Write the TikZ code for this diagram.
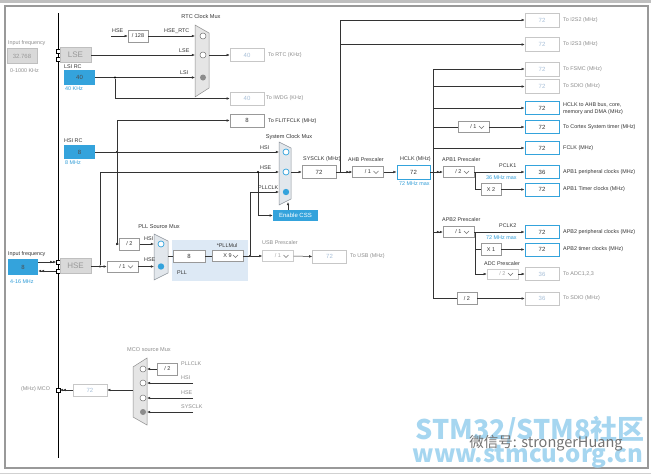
\documentclass[tikz,border=0pt]{standalone}
\usepackage{fontspec}
\setmainfont{Liberation Sans}
\newfontfamily\cjkfont{Noto Sans CJK SC}
\usetikzlibrary{arrows.meta}
\definecolor{cblue}{HTML}{34A3DC}
\definecolor{tblue}{HTML}{2E9BD6}
\definecolor{cpll}{HTML}{DDE9F5}
\definecolor{muxfill}{HTML}{E2E7EC}
\definecolor{muxdraw}{HTML}{8C939B}
\definecolor{dimnum}{HTML}{A7BFD8}
\definecolor{wm}{HTML}{A6D6F0}
\begin{document}
\begin{tikzpicture}[x=1pt,y=-1pt, >={Latex[length=3.2pt,width=2.6pt]},
 wire/.style={draw=black!80, line width=0.5pt},
 dbl/.style={-{Latex[length=3pt,width=2.6pt]Latex[length=3pt,width=2.6pt]}},
 lbl/.style={font=\fontsize{5.4}{6}\selectfont, text=black!80, inner sep=0, anchor=west},
 dlbl/.style={lbl, text=black!45},
 blbl/.style={lbl, text=tblue},
 vbox/.style={rectangle, draw=black!40, line width=0.4pt, fill=white, minimum width=34pt, minimum height=13pt, inner sep=0, font=\fontsize{6}{7}\selectfont, text=black!80},
 dbox/.style={vbox, draw=black!22, text=dimnum},
 sbox/.style={vbox, draw=cblue, line width=0.9pt},
 bfill/.style={rectangle, fill=cblue, minimum width=31pt, minimum height=15pt, inner sep=0, font=\fontsize{6}{7}\selectfont, text=black!70},
 gfill/.style={rectangle, fill=black!15, draw=black!25, line width=0.4pt, minimum width=31pt, minimum height=15pt, inner sep=0, text=black!40},
 sbx/.style={vbox, minimum width=20pt, minimum height=12pt, font=\fontsize{5.5}{6}\selectfont},
 ddbox/.style={vbox, minimum width=31pt, minimum height=11pt, font=\fontsize{5.5}{6}\selectfont,
   path picture={\draw[black!55, line width=0.4pt] ([xshift=-10pt,yshift=1pt]path picture bounding box.east) -- ++(2.5pt,-2.5pt) -- ++(2.5pt,2.5pt);}},
 dddis/.style={ddbox, draw=black!20, text=black!35},
 pinsq/.style={rectangle, draw=black, fill=white, minimum size=3.4pt, inner sep=0, line width=0.4pt},
 dotj/.style={circle, fill=black, minimum size=2.2pt, inner sep=0},
 muxg/.style={fill=black!10, draw=black!45, line width=0.5pt},
 muxb/.style={fill=muxfill, draw=muxdraw, line width=0.5pt},
 ocirc/.style={draw=cblue, line width=0.7pt, fill=white},
 fcirc/.style={fill=cblue},
 ogc/.style={draw=black!55, line width=0.5pt, fill=white},
 fgc/.style={fill=black!45},
 muxlbl/.style={lbl, anchor=center, font=\fontsize{5.6}{6}\selectfont}
]
\useasboundingbox (0,0) rectangle (651,474);
% frame
\fill[black!25] (0,0) rectangle (651,2.5);
\draw[black!40, line width=1.2pt] (5,6) rectangle (648,468);
\draw[black!18, line width=0.6pt] (0,473) -- (651,473);
% left rail
\draw[black, line width=0.6pt] (58,13) -- (58,458);

% ---------- LSE / LSI ----------
\node[dlbl] at (8,43) {Input frequency};
\node[gfill, minimum width=30pt, font=\fontsize{6}{7}\selectfont] (lsein) at (22,56) {32.768};
\node[dlbl] at (10,71) {0-1000 KHz};
\node[pinsq] (plse1) at (58,51) {};
\node[pinsq] (plse2) at (58,59) {};
\node[gfill, font=\fontsize{8}{9}\selectfont] (lse) at (75.5,55) {LSE};
\node[lbl] at (64,66.5) {LSI RC};
\node[bfill] (lsi) at (79.5,77.5) {40};
\node[blbl] at (65,88.5) {40 KHz};

% ---------- RTC mux ----------
\node[muxlbl] at (201,16) {RTC Clock Mux};
\path[muxg] (195,25) -- (209,33) -- (209,88) -- (195,97) -- cycle;
\draw[ogc] (203,36) circle[radius=3pt];
\draw[ogc] (203,55) circle[radius=3pt];
\fill[fgc] (203,77.5) circle[radius=3pt];
\coordinate (hsertcsrc) at (111,36);
\node[lbl] at (112,30.5) {HSE};
\node[sbx] (d128) at (138,36) {/ 128};
\draw[wire,->] (hsertcsrc) -- (d128.west);
\coordinate (rtcin1) at (195,36);
\coordinate (rtcin2) at (195,55);
\coordinate (rtcin3) at (195,77.5);
\coordinate (rtcout) at (209,55);
\draw[wire,->] (d128.east) -- (rtcin1);
\node[lbl] at (164,31) {HSE\_RTC};
\draw[wire,->] (lse.east) -- (rtcin2);
\node[lbl] at (179,50.5) {LSE};
\draw[wire,->] (lsi.east) -- (rtcin3);
\node[lbl] at (180,72.5) {LSI};
\node[dotj] (lsij) at (115,77.5) {};
\node[dbox] (rtc) at (247,55) {40};
\node[dlbl] at (268,55) {To RTC (KHz)};
\draw[wire,->] (rtcout) -- (rtc.west);
\node[dbox] (iwdg) at (247,98.5) {40};
\node[dlbl] at (266,98.5) {To IWDG (KHz)};
\draw[wire,->] (lsij) |- (iwdg.west);

% ---------- HSI ----------
\node[lbl] at (64,140.5) {HSI RC};
\node[bfill, minimum height=14pt] (hsi) at (79.5,152) {8};
\node[blbl] at (65,163) {8 MHz};
\node[vbox] (flit) at (247,120.5) {8};
\node[lbl] at (268,121) {To FLITFCLK (MHz)};
\node[dotj] (hsij) at (117,152) {};
\coordinate (sysin1) at (279,152);
\coordinate (sysin2) at (279,172);
\coordinate (sysin3) at (279,192);
\draw[wire,->] (hsi.east) -- (sysin1);
\node[lbl] at (260,148) {HSI};
\draw[wire,->] (hsij) |- (flit.west);
\node[sbx] (div2) at (129.5,244) {/ 2};
\draw[wire,->] (hsij) |- (div2.west);

% ---------- HSE ----------
\node[lbl] at (8,254.5) {Input frequency};
\node[bfill, minimum width=30pt, minimum height=16pt] (hsein) at (23,267) {8};
\node[blbl] at (10,281.5) {4-16 MHz};
\node[pinsq] (phse1) at (58,262) {};
\node[pinsq] (phse2) at (58,271) {};
\node[gfill, font=\fontsize{8}{9}\selectfont] (hse) at (75.5,266) {HSE};
\draw[wire,dbl] (hsein.east |- phse1) -- (phse1.west);
\draw[wire,dbl] (phse2.west) -- (hsein.east |- phse2);
\node[ddbox] (hsepre) at (122.5,266.5) {/ 1\hspace{9pt}};
\node[dotj] (hsej) at (100,266.5) {};
\draw[wire,->] (hse.east |- hsepre) -- (hsepre.west);
\draw[wire,->] (hsej) |- (sysin2);
\node[lbl] at (260,167.5) {HSE};
\node[dotj] (cssj) at (258,172) {};

% ---------- PLL source mux ----------
\node[muxlbl] at (159,227) {PLL Source Mux};
\fill[cpll] (172,240) rectangle (248,281);
\path[muxb] (154,234) -- (168,241) -- (168,273) -- (154,280) -- cycle;
\draw[ocirc] (161,244) circle[radius=3pt];
\fill[fcirc] (161,266.5) circle[radius=3.2pt];
\coordinate (pllsin1) at (154,244);
\coordinate (pllsin2) at (154,266.5);
\coordinate (pllsout) at (168,256);
\draw[wire,->] (div2.east) -- (pllsin1);
\node[lbl] at (144,239) {HSI};
\draw[wire,->] (hsepre.east) -- (pllsin2);
\node[lbl] at (144,260) {HSE};
\node[vbox, minimum width=32pt, minimum height=12pt] (pllin) at (189,256) {8};
\draw[wire] (pllsout) -- (pllin.west);
\node[lbl] at (177,272.5) {PLL};
\node[lbl, anchor=center] at (227,246) {*PLLMul};
\node[ddbox] (pllmul) at (227.5,256) {X 9\hspace{9pt}};
\draw[wire] (pllin.east) -- (pllmul.west);
\node[dotj] (pllj) at (250,256) {};
\draw[wire] (pllmul.east) -- (pllj);
\draw[wire,->] (pllj) |- (sysin3);
\node[lbl] at (258,187.5) {PLLCLK};
\node[dddis] (usbpre) at (278,256) {/ 1\hspace{9pt}};
\draw[wire,->] (pllj) -- (usbpre.west);
\node[dbox] (usb) at (329.5,256.5) {72};
\draw[wire,->] (usbpre.east) -- (usb.west);
\node[dlbl] at (350,256.5) {To USB (MHz)};
\node[dlbl] at (262,243) {USB Prescaler};

% ---------- System clock mux ----------
\node[muxlbl] at (289,137) {System Clock Mux};
\path[muxb] (279,142) -- (291,148) -- (291,199) -- (279,205) -- cycle;
\draw[ocirc] (286,152) circle[radius=3pt];
\draw[ocirc] (286,172) circle[radius=3pt];
\fill[fcirc] (286,192) circle[radius=3.2pt];
\node[rectangle, fill=cblue, minimum width=45pt, minimum height=11pt, inner sep=0, text=white, font=\fontsize{6}{7}\selectfont] (css) at (295.5,215.5) {Enable CSS};
\draw[wire,->] (cssj) |- (css.west);
\coordinate (cssup) at (288,210);
\coordinate (muxbot) at (288,202);
\draw[wire,->] (cssup) -- (muxbot);
\coordinate (sysout) at (291,172);
\node[vbox] (sysclk) at (319,172) {72};
\draw[wire,->] (sysout) -- (sysclk.west);
\node[lbl] at (303,159.5) {SYSCLK (MHz)};
\node[ddbox] (ahb) at (368,172) {/ 1\hspace{9pt}};
\draw[wire,dbl] (sysclk.east) -- (ahb.west);
\node[lbl] at (348,159.5) {AHB Prescaler};
\coordinate (sysj) at (340,172);
\node[dbox, minimum height=14pt] (i2s2) at (542,20) {72};
\node[dbox, minimum height=14pt] (i2s3) at (542,44.5) {72};
\node[dlbl] at (563,20) {To I2S2 (MHz)};
\node[dlbl] at (563,44.5) {To I2S3 (MHz)};
\draw[wire,->] (sysj) |- (i2s2.west);
\coordinate (i2s3j) at (340,44.5);
\draw[wire,->] (i2s3j) -- (i2s3.west);

% ---------- HCLK ----------
\node[sbox, minimum width=33pt, minimum height=14pt] (hclk) at (413.5,172) {72};
\draw[wire,->] (ahb.east) -- (hclk.west);
\node[lbl] at (400,159.5) {HCLK (MHz)};
\node[blbl] at (399,183.5) {72 MHz max};
\coordinate (hj) at (433,172);
\coordinate (hbbot) at (433,298.5);
\node[dbox, minimum height=14pt] (fsmc) at (542,69) {72};
\node[dlbl] at (563,69) {To FSMC (MHz)};
\node[dbox, minimum height=14pt] (sdio1) at (542,86.5) {72};
\node[dlbl] at (563,86.5) {To SDIO (MHz)};
\node[sbox] (ahbout) at (542,108) {72};
\node[lbl] at (563,104.5) {HCLK to AHB bus, core,};
\node[lbl] at (563,112) {memory and DMA (MHz)};
\node[ddbox] (cortexdd) at (473.5,127) {/ 1\hspace{9pt}};
\node[sbox] (cortex) at (542,127) {72};
\node[lbl] at (563,127) {To Cortex System timer (MHz)};
\node[sbox] (fclk) at (542,148) {72};
\node[lbl] at (563,148) {FCLK (MHz)};
\draw[wire,->] (hbbot) |- (fsmc.west);
\draw[wire,->] (sdio1.west -| hj) -- (sdio1.west);
\draw[wire,->] (ahbout.west -| hj) -- (ahbout.west);
\draw[wire] (cortexdd.west -| hj) -- (cortexdd.west);
\draw[wire,->] (cortexdd.east) -- (cortex.west);
\draw[wire,->] (fclk.west -| hj) -- (fclk.west);

% ---------- APB1 ----------
\node[lbl] at (442,159.5) {APB1 Prescaler};
\node[ddbox] (apb1) at (458.5,172) {/ 2\hspace{9pt}};
\draw[wire,dbl] (hclk.east) -- (apb1.west);
\node[sbox] (pclk1) at (542,172) {36};
\node[lbl] at (563,172) {APB1 peripheral clocks (MHz)};
\draw[wire,->] (apb1.east) -- (pclk1.west);
\node[lbl] at (499,166) {PCLK1};
\node[blbl] at (486,177.5) {36 MHz max};
\coordinate (apb1v) at (475,172);
\node[sbx] (x2) at (491,189.5) {X 2};
\node[sbox] (apb1tim) at (542,189.5) {72};
\node[lbl] at (563,189.5) {APB1 Timer clocks (MHz)};
\draw[wire] (apb1v) |- (x2.west);
\draw[wire,->] (x2.east) -- (apb1tim.west);

% ---------- APB2 ----------
\node[lbl] at (442,219.5) {APB2 Prescaler};
\coordinate (hj2) at (433,232);
\node[ddbox] (apb2) at (458.5,232) {/ 1\hspace{9pt}};
\draw[wire,dbl] (hj2) -- (apb2.west);
\node[sbox] (pclk2) at (542,232) {72};
\node[lbl] at (563,232) {APB2 peripheral clocks (MHz)};
\draw[wire,->] (apb2.east) -- (pclk2.west);
\node[lbl] at (499,226) {PCLK2};
\node[blbl] at (486,237.5) {72 MHz max};
\coordinate (apb2v) at (475,232);
\node[sbx] (x1) at (491,249.5) {X 1};
\node[sbox] (apb2tim) at (542,249.5) {72};
\node[lbl] at (563,249.5) {APB2 timer clocks (MHz)};
\draw[wire] (apb2v) |- (x1.west);
\draw[wire,->] (x1.east) -- (apb2tim.west);
\node[lbl] at (484,263.5) {ADC Prescaler};
\node[dddis, minimum height=10pt] (adcdd) at (502.5,274) {/ 2\hspace{9pt}};
\node[dbox] (adc) at (542,274) {36};
\node[dlbl] at (563,274) {To ADC1,2,3};
\draw[wire,->] (apb2v) |- (adcdd.west);
\draw[wire,->] (adcdd.east) -- (adc.west);

% ---------- SDIO /2 ----------
\node[sbx] (sdiodiv) at (467,298.5) {/ 2};
\node[dbox] (sdio2) at (542,298.5) {36};
\node[dlbl] at (563,298.5) {To SDIO (MHz)};
\draw[wire] (hbbot) -- (sdiodiv.west);
\draw[wire,->] (sdiodiv.east) -- (sdio2.west);

% ---------- MCO ----------
\node[muxlbl, text=black!45] at (149,350) {MCO source Mux};
\path[muxg] (133,367) -- (147,358) -- (147,425) -- (133,417) -- cycle;
\draw[ogc] (143,369) circle[radius=3pt];
\draw[ogc] (143,383) circle[radius=3pt];
\draw[ogc] (143,398) circle[radius=3pt];
\fill[fgc] (143,412) circle[radius=3pt];
\node[sbx] (mcodiv) at (167.5,369) {/ 2};
\coordinate (mcoin1) at (147,369);
\coordinate (mcoin2) at (147,383);
\coordinate (mcoin3) at (147,398);
\coordinate (mcoin4) at (147,412);
\coordinate (mcos2) at (193,383);
\coordinate (mcos3) at (193,398);
\coordinate (mcos4) at (193,412);
\draw[wire,->] (mcodiv.west) -- (mcoin1);
\draw[wire,->] (mcos2) -- (mcoin2);
\draw[wire,->] (mcos3) -- (mcoin3);
\draw[wire,->] (mcos4) -- (mcoin4);
\node[dlbl] at (181,364) {PLLCLK};
\node[dlbl] at (181,378) {HSI};
\node[dlbl] at (181,392.5) {HSE};
\node[dlbl] at (181,406.5) {SYSCLK};
\coordinate (mcoout) at (133,390);
\node[dbox, minimum height=12pt] (mco) at (90,390) {72};
\draw[wire,->] (mcoout) -- (mco.east);
\node[pinsq] (pmco) at (58,390) {};
\draw[wire,dbl] (mco.west) -- (pmco.east);
\node[dlbl] at (21,389.5) {(MHz) MCO};

% ---------- watermark ----------
\node[text=wm, font=\cjkfont\bfseries\fontsize{27}{28}\selectfont, inner sep=0] (wm1) at (530,430) {STM32/STM8社区};
\node[text=wm, font=\cjkfont\bfseries\fontsize{24}{25}\selectfont, inner sep=0] (wm3) at (528,457) {www.stmcu.org.cn};
\node[text=black!55, font=\cjkfont\fontsize{14.5}{15}\selectfont, inner sep=0] (wm2) at (546,443.5) {微信号: strongerHuang};
\end{tikzpicture}
\end{document}
